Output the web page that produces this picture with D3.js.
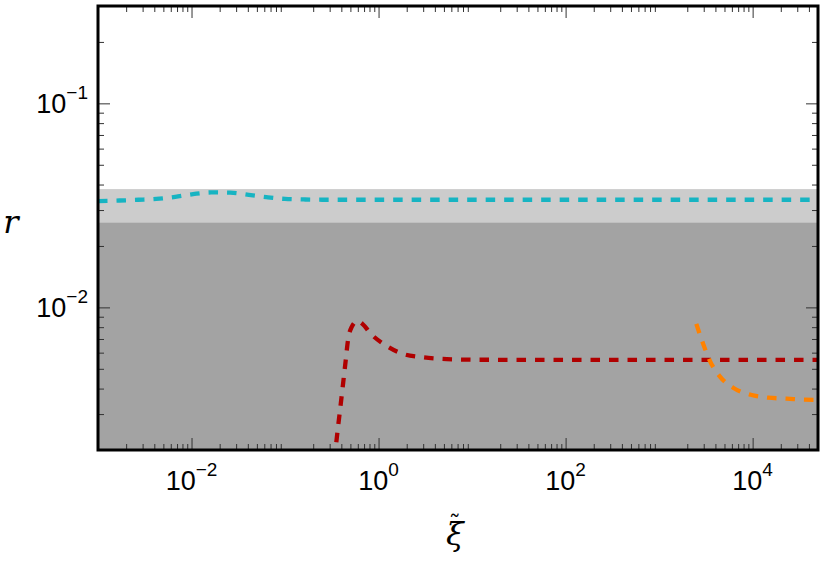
<!DOCTYPE html>
<html>
<head>
<meta charset="utf-8">
<script src="https://cdn.jsdelivr.net/npm/d3@7"></script>
<style>
    body { margin: 0; background: #fff; }
    svg { display: block; }
</style>
</head>
<body>
<svg id="chart"></svg>
<script>

// curve values (xi, r)
const xiCyan = [0.001, 0.0017, 0.0027, 0.0042, 0.0067, 0.0104, 0.0163, 0.026, 0.041, 0.063, 0.1, 0.16, 0.25, 0.5, 1, 10, 100, 1000, 10000, 50000]
const rCyan = [0.0332, 0.0334, 0.0337, 0.0340, 0.0348, 0.0359, 0.0366, 0.0365, 0.0356, 0.0347, 0.0340, 0.0338, 0.0337, 0.0337, 0.0337, 0.0337, 0.0337, 0.0337, 0.0337, 0.0337]

const xiRed = [0.336, 0.369, 0.393, 0.418, 0.444, 0.472, 0.515, 0.593, 0.676, 0.823, 1.19, 1.80, 2.83, 4.27, 6.7, 10.5, 100, 1000, 10000, 50000]
const rRed = [0.00177, 0.00260, 0.00332, 0.00425, 0.00543, 0.00695, 0.00800, 0.00856, 0.00828, 0.00744, 0.00652, 0.00593, 0.00571, 0.00561, 0.00556, 0.00554, 0.00553, 0.00553, 0.00553, 0.00553]

const xiOrange = [2500, 2950, 3470, 4450, 6190, 9560, 14700, 23100, 36200, 50000]
const rOrange = [0.0083, 0.00665, 0.00550, 0.00459, 0.00404, 0.00373, 0.00361, 0.00357, 0.00353, 0.00352]

// shaded bands (upper edge of each, they run down to the bottom)
const bandTops = [0.038, 0.026]

// axis ranges and labelled ticks
const xDomain = [1e-3, 5e4]
const yDomain = [2e-3, 0.3]
const xMajorExp = [-2, 0, 2, 4]
const yMajorExp = [-2, -1]

const renderChart = () => {

    const width = 826
    const height = 562

    const margin = { top: 6, right: 8, bottom: 112, left: 98 }
    const innerWidth = width - margin.left - margin.right
    const innerHeight = height - margin.top - margin.bottom

    const xScale = d3.scaleLog().domain(xDomain).range([0, innerWidth])
    const yScale = d3.scaleLog().domain(yDomain).range([innerHeight, 0])

    const svg = d3.select('#chart')
        .attr('width', width)
        .attr('height', height)

    svg.append('defs').append('clipPath')
        .attr('id', 'clip')
        .append('rect')
        .attr('width', innerWidth)
        .attr('height', innerHeight)

    const g = svg.append('g')
        .attr('transform', `translate(${margin.left}, ${margin.top})`)

    // bands
    const bandColors = ['#cccccc', '#a3a3a3']
    g.selectAll('.band')
        .data(bandTops)
        .enter()
        .append('rect')
            .attr('class', 'band')
            .attr('x', 0)
            .attr('width', innerWidth)
            .attr('y', d => yScale(d))
            .attr('height', d => innerHeight - yScale(d))
            .attr('fill', (d, i) => bandColors[i])

    // minor tick values: 2..9 times every decade in range
    const minorTicks = (domain) => {
        const out = []
        for (let e = Math.floor(Math.log10(domain[0])); e <= Math.ceil(Math.log10(domain[1])); e++) {
            for (let m = 2; m <= 9; m++) {
                const v = m * Math.pow(10, e)
                if (v >= domain[0] && v <= domain[1]) out.push(v)
            }
        }
        return out
    }

    const xMajor = xMajorExp.map(e => Math.pow(10, e))
    const yMajor = yMajorExp.map(e => Math.pow(10, e))

    const supLabel = (sel, exp) => {
        sel.append('tspan').text('10')
        sel.append('tspan')
            .attr('dy', -14)
            .attr('font-size', 19)
            .text(exp < 0 ? '\u2212' + Math.abs(exp) : String(exp))
    }

    // axes drawn with d3, ticks pointing inward, mirrored on top/right
    const xAxisBottom = d3.axisBottom(xScale).tickValues(xMajor).tickSize(-12).tickFormat('')
    const xAxisBottomMinor = d3.axisBottom(xScale).tickValues(minorTicks(xDomain)).tickSize(-6).tickFormat('')
    const xAxisTop = d3.axisTop(xScale).tickValues(xMajor).tickSize(-12).tickFormat('')
    const xAxisTopMinor = d3.axisTop(xScale).tickValues(minorTicks(xDomain)).tickSize(-6).tickFormat('')
    const yAxisLeft = d3.axisLeft(yScale).tickValues(yMajor).tickSize(-12).tickFormat('')
    const yAxisLeftMinor = d3.axisLeft(yScale).tickValues(minorTicks(yDomain)).tickSize(-6).tickFormat('')
    const yAxisRight = d3.axisRight(yScale).tickValues(yMajor).tickSize(-12).tickFormat('')
    const yAxisRightMinor = d3.axisRight(yScale).tickValues(minorTicks(yDomain)).tickSize(-6).tickFormat('')

    const axes = [
        [xAxisBottom, `translate(0, ${innerHeight})`],
        [xAxisBottomMinor, `translate(0, ${innerHeight})`],
        [xAxisTop, 'translate(0, 0)'],
        [xAxisTopMinor, 'translate(0, 0)'],
        [yAxisLeft, 'translate(0, 0)'],
        [yAxisLeftMinor, 'translate(0, 0)'],
        [yAxisRight, `translate(${innerWidth}, 0)`],
        [yAxisRightMinor, `translate(${innerWidth}, 0)`]
    ]

    axes.forEach(([ax, tr]) => {
        const a = g.append('g').attr('transform', tr).call(ax)
        a.select('.domain').remove()
        a.selectAll('.tick line').attr('stroke', '#333').attr('stroke-width', 1)
    })

    // lines
    const line = d3.line()
        .x(d => xScale(d[0]))
        .y(d => yScale(d[1]))
        .curve(d3.curveMonotoneX)

    const series = [
        { xi: xiCyan, r: rCyan, color: '#17b4c2' },
        { xi: xiRed, r: rRed, color: '#b00000' },
        { xi: xiOrange, r: rOrange, color: '#ff8200' }
    ]

    g.append('g')
        .attr('clip-path', 'url(#clip)')
        .selectAll('path')
        .data(series)
        .enter()
        .append('path')
            .attr('d', s => line(s.xi.map((x, i) => [x, s.r[i]])))
            .attr('fill', 'none')
            .attr('stroke', s => s.color)
            .attr('stroke-width', 4.3)
            .attr('stroke-dasharray', '9.5,9')

    // frame
    g.append('rect')
        .attr('width', innerWidth)
        .attr('height', innerHeight)
        .attr('fill', 'none')
        .attr('stroke', '#000')
        .attr('stroke-width', 3)

    // tick labels
    const labelFont = "'Liberation Sans', Arial, sans-serif"

    xMajorExp.forEach(e => {
        const t = g.append('text')
            .attr('x', xScale(Math.pow(10, e)))
            .attr('y', innerHeight + 40)
            .attr('text-anchor', 'middle')
            .attr('font-family', labelFont)
            .attr('font-size', 27)
            .attr('fill', '#000')
        supLabel(t, e)
    })

    yMajorExp.forEach(e => {
        const t = g.append('text')
            .attr('x', -10)
            .attr('y', yScale(Math.pow(10, e)) + 10)
            .attr('text-anchor', 'end')
            .attr('font-family', labelFont)
            .attr('font-size', 27)
            .attr('fill', '#000')
        supLabel(t, e)
    })

    // axis titles
    const mathFont = "'DejaVu Serif', 'Liberation Serif', serif"

    svg.append('text')
        .attr('x', 11)
        .attr('y', 233)
        .attr('text-anchor', 'middle')
        .attr('font-family', mathFont)
        .attr('font-style', 'italic')
        .attr('font-size', 32)
        .text('r')

    // xi with a tilde placed over it, one text element
    const xiLabel = svg.append('text')
        .attr('x', 446)
        .attr('y', 545)
        .attr('font-family', mathFont)
        .attr('font-style', 'italic')
        .attr('font-size', 32)
    xiLabel.append('tspan').text('\u03be')
    xiLabel.append('tspan')
        .attr('dx', -15)
        .attr('dy', -12)
        .attr('font-style', 'normal')
        .attr('font-size', 24)
        .text('\u02dc')
}

renderChart()
</script>
</body>
</html>
